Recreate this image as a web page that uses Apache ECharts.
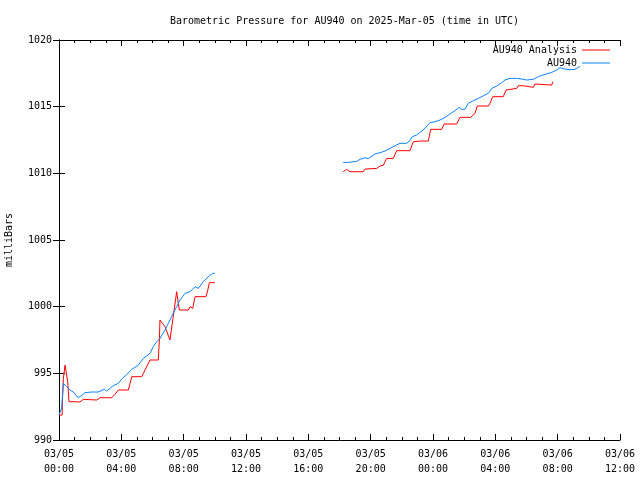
<!DOCTYPE html>
<html>
<head>
<meta charset="utf-8">
<script src="https://cdn.jsdelivr.net/npm/echarts@6/dist/echarts.min.js"></script>
<style>html,body{margin:0;padding:0;background:#fff}#c{width:640px;height:480px}</style>
</head>
<body>
<div id="c"></div>
<script>
// Hours since 2025-03-05 00:00 UTC; null marks a data gap
const analysisHours = [0,0.2,0.22,0.28,0.39,0.49,0.56,0.64,1.03,1.07,1.35,1.56,1.64,2.42,2.63,3.38,3.59,3.81,4.45,4.67,5.31,5.52,5.84,6.37,6.44,6.48,6.55,6.8,7.12,7.23,7.33,7.55,7.66,7.72,8.3,8.41,8.58,8.73,9.43,9.52,9.65,10.0,
  12,
  18.24,18.46,18.57,18.67,19.53,19.64,20.39,20.6,20.81,21.03,21.45,21.67,22.52,22.74,23.17,23.7,23.85,24.56,24.71,25.52,25.73,26.42,26.7,26.84,27.55,27.66,27.83,28.51,28.69,28.73,29.37,29.47,29.79,29.9,30.44,30.54,30.65,31.62,31.68];
const analysisValues = [991.87,991.87,993.0,994.62,995.62,995.67,994.37,992.87,992.87,992.82,992.85,993.05,993.0,993.0,993.17,993.17,993.42,993.75,993.75,994.75,994.75,995.25,996.0,996.0,997.5,999.0,999.12,998.5,997.5,997.5,999.25,1001.12,1000.25,999.75,999.75,1000.0,999.87,1000.75,1000.75,1001.1,1001.8,1001.8,
  null,
  1010.12,1010.3,1010.32,1010.12,1010.12,1010.32,1010.37,1010.55,1010.6,1011.12,1011.12,1011.7,1011.7,1012.37,1012.42,1012.42,1013.3,1013.3,1013.7,1013.7,1014.2,1014.2,1014.5,1015.05,1015.05,1015.25,1015.75,1015.75,1016.25,1016.37,1016.37,1016.57,1016.57,1016.45,1016.45,1016.7,1016.62,1016.62,1016.87];

const obsHours = [0,0.17,0.28,0.49,0.71,0.92,1.2,1.35,1.67,2.1,2.52,2.91,3.06,3.48,3.81,4.02,4.34,4.67,4.81,5.09,5.41,5.84,6.05,6.27,6.48,6.8,7.12,7.33,7.55,7.76,8.09,8.41,8.73,8.94,9.26,9.58,9.86,10.0,
  12,
  18.24,18.57,18.67,19.1,19.32,19.64,19.85,19.96,20.28,20.6,20.92,21.24,21.56,21.88,22.31,22.52,22.67,22.95,23.17,23.38,23.49,23.81,24.13,24.45,24.56,24.77,25.09,25.41,25.69,25.84,26.05,26.27,26.59,26.91,27.23,27.55,27.77,28.09,28.41,28.62,28.94,29.37,29.69,30.01,30.44,30.76,31.19,31.62,31.94,32.15,32.47,32.79,33.11,33.32,33.43];
const obsValues = [991.87,992.4,994.25,994.0,993.75,993.6,993.2,993.25,993.55,993.6,993.6,993.8,993.67,994.07,994.25,994.57,994.9,995.3,995.4,995.62,996.12,996.5,997.0,997.37,997.62,998.25,999.0,999.5,1000.0,1000.5,1001.0,1001.12,1001.5,1001.37,1001.87,1002.25,1002.5,1002.5,
  null,
  1010.82,1010.82,1010.9,1010.9,1011.05,1011.17,1011.1,1011.25,1011.45,1011.55,1011.67,1011.87,1012.07,1012.25,1012.25,1012.45,1012.75,1012.87,1013.08,1013.25,1013.37,1013.8,1013.87,1014.0,1013.9,1014.2,1014.45,1014.7,1014.95,1014.8,1014.8,1015.25,1015.45,1015.62,1015.82,1016.0,1016.37,1016.55,1016.8,1017.0,1017.12,1017.12,1017.07,1017.0,1017.05,1017.25,1017.42,1017.57,1017.75,1017.92,1017.82,1017.77,1017.8,1017.95,1018.0];

const titleText = 'Barometric Pressure for AU940 on 2025-Mar-05 (time in UTC)';
const seriesNames = ['AU940 Analysis', 'AU940'];
const yTicks = [990, 995, 1000, 1005, 1010, 1015, 1020];
const xMin = 0, xMax = 36, xStep = 4;

function pairs(hs, vs) { return hs.map((h, i) => [h, vs[i] === null ? '-' : vs[i]]); }
function xLabel(h) {
  const day = 5 + Math.floor(h / 24);
  const hh = h % 24;
  return '03/' + String(day).padStart(2, '0') + '\n' + String(hh).padStart(2, '0') + ':00';
}

const font = 'DejaVu Sans Mono';
const chart = echarts.init(document.getElementById('c'), null, {renderer: 'canvas'});
const axisLine = {show: true, lineStyle: {color: '#000', width: 1}};
const legendBase = {right: 30, align: 'right', icon: 'rect', itemWidth: 28, itemHeight: 1, padding: 0,
  textStyle: {fontFamily: font, fontSize: 10, color: '#000'}};
chart.setOption({
  animation: false,
  backgroundColor: '#fff',
  title: {text: titleText, left: 339.5, textAlign: 'center', top: 11,
    textStyle: {fontFamily: font, fontSize: 10, fontWeight: 'normal', color: '#000'}},
  grid: {left: 59, right: 20, top: 40, bottom: 40, containLabel: false, outerBoundsMode: 'none'},
  legend: [
    Object.assign({}, legendBase, {data: [seriesNames[0]], top: 45}),
    Object.assign({}, legendBase, {data: [seriesNames[1]], top: 58})
  ],
  xAxis: [
    {type: 'value', min: xMin, max: xMax, interval: xStep, axisLine,
      splitLine: {show: false},
      axisTick: {inside: true, length: 6, lineStyle: {color: '#000'}},
      minorTick: {show: true, splitNumber: 4, length: 3, lineStyle: {color: '#000'}},
      axisLabel: {formatter: xLabel, fontFamily: font, fontSize: 10, color: '#000', margin: 7, lineHeight: 15}},
    {type: 'value', position: 'top', min: xMin, max: xMax, interval: xStep, axisLine,
      splitLine: {show: false},
      axisTick: {inside: true, length: 6, lineStyle: {color: '#000'}},
      minorTick: {show: true, splitNumber: 4, length: 3, lineStyle: {color: '#000'}},
      axisLabel: {show: false}}
  ],
  yAxis: [
    {type: 'value', min: yTicks[0], max: yTicks[yTicks.length - 1], interval: 5, axisLine,
      splitLine: {show: false},
      axisTick: {inside: true, length: 6, lineStyle: {color: '#000'}},
      axisLabel: {fontFamily: font, fontSize: 10, color: '#000', margin: 7, formatter: v => String(v)},
      name: 'milliBars', nameLocation: 'middle', nameGap: 45, nameRotate: 90,
      nameTextStyle: {fontFamily: font, fontSize: 10, color: '#000'}},
    {type: 'value', position: 'right', min: yTicks[0], max: yTicks[yTicks.length - 1], interval: 5, axisLine,
      splitLine: {show: false},
      axisTick: {inside: true, length: 6, lineStyle: {color: '#000'}},
      axisLabel: {show: false}}
  ],
  series: [
    {name: seriesNames[0], type: 'line', data: pairs(analysisHours, analysisValues), showSymbol: false,
      color: '#ff0000', lineStyle: {width: 1, color: '#ff0000'}, connectNulls: false},
    {name: seriesNames[1], type: 'line', data: pairs(obsHours, obsValues), showSymbol: false,
      color: '#0a84ff', lineStyle: {width: 1, color: '#0a84ff'}, connectNulls: false}
  ]
});
</script>
</body>
</html>
